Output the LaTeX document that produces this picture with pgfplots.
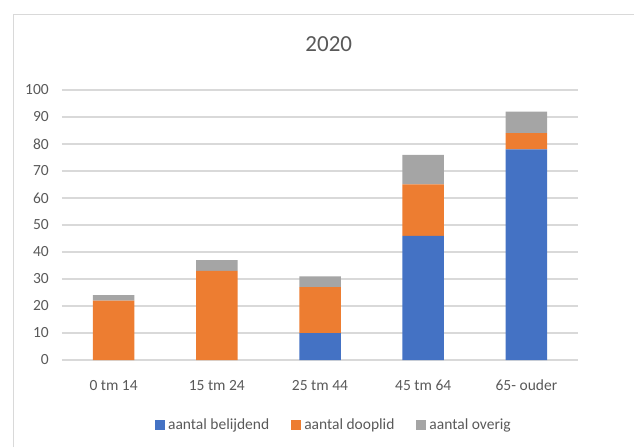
\documentclass[border=0pt]{standalone}
\usepackage{fontspec}
\setmainfont{Carlito}
\usepackage{pgfplots}
\usepackage{pgfplotstable}
\pgfplotsset{compat=1.18}

\definecolor{xblue}{HTML}{4472C4}
\definecolor{xorange}{HTML}{ED7D31}
\definecolor{xgray}{HTML}{A5A5A5}
\definecolor{gridc}{HTML}{D9D9D9}
\definecolor{txt}{HTML}{595959}

% leeftijd: 0 = 0 tm 14 ... 4 = 65- ouder
\pgfplotstableread{
x belijdend dooplid overig
0 0  22 2
1 0  33 4
2 10 17 4
3 46 19 11
4 78 6  8
}\ledentabel

\begin{document}
\begin{tikzpicture}
\useasboundingbox (0,0) rectangle (634pt,447pt);
\draw[gridc, line width=1pt] (13pt,0) -- (13pt,432pt) -- (640pt,432pt);
\begin{axis}[
    at={(62pt,87pt)}, anchor=south west,
    scale only axis,
    width=516pt, height=270pt,
    ybar stacked,
    bar width=41.5pt,
    xmin=-0.5, xmax=4.5,
    ymin=0, ymax=100,
    ytick={0,10,...,100},
    xtick=data,
    xticklabels={0 tm 14, 15 tm 24, 25 tm 44, 45 tm 64, 65- ouder},
    axis line style={draw=none},
    major tick length=0pt,
    ymajorgrids,
    grid style={gridc, line width=1.5pt},
    tick label style={text=txt, font=\fontsize{15.5}{18}\selectfont},
    /pgf/number format/assume math mode=true,
    xticklabel style={anchor=base, yshift=-30pt},
    yticklabel style={anchor=east, inner sep=0pt, xshift=-13pt},
    title={2020},
    title style={at={(0.517,1.148)}, anchor=center, text=txt,
                 font=\fontsize{23}{28}\selectfont},
    legend columns=3,
    legend style={at={(0.527,-0.241)}, anchor=center, draw=none,
                  fill=none, text=txt, font=\fontsize{15.5}{18}\selectfont,
                  /tikz/every odd column/.append style={column sep=1pt},
                  /tikz/every even column/.append style={column sep=20pt},
                  inner sep=0pt},
    legend image code/.code={\fill[#1] (0pt,-5pt) rectangle (10pt,5pt);},
]
\addplot[fill=xblue, draw=none] table[x=x, y=belijdend] {\ledentabel};
\addplot[fill=xorange, draw=none] table[x=x, y=dooplid] {\ledentabel};
\addplot[fill=xgray, draw=none] table[x=x, y=overig] {\ledentabel};
\legend{aantal belijdend, aantal dooplid, aantal overig}
\end{axis}
\end{tikzpicture}
\end{document}
